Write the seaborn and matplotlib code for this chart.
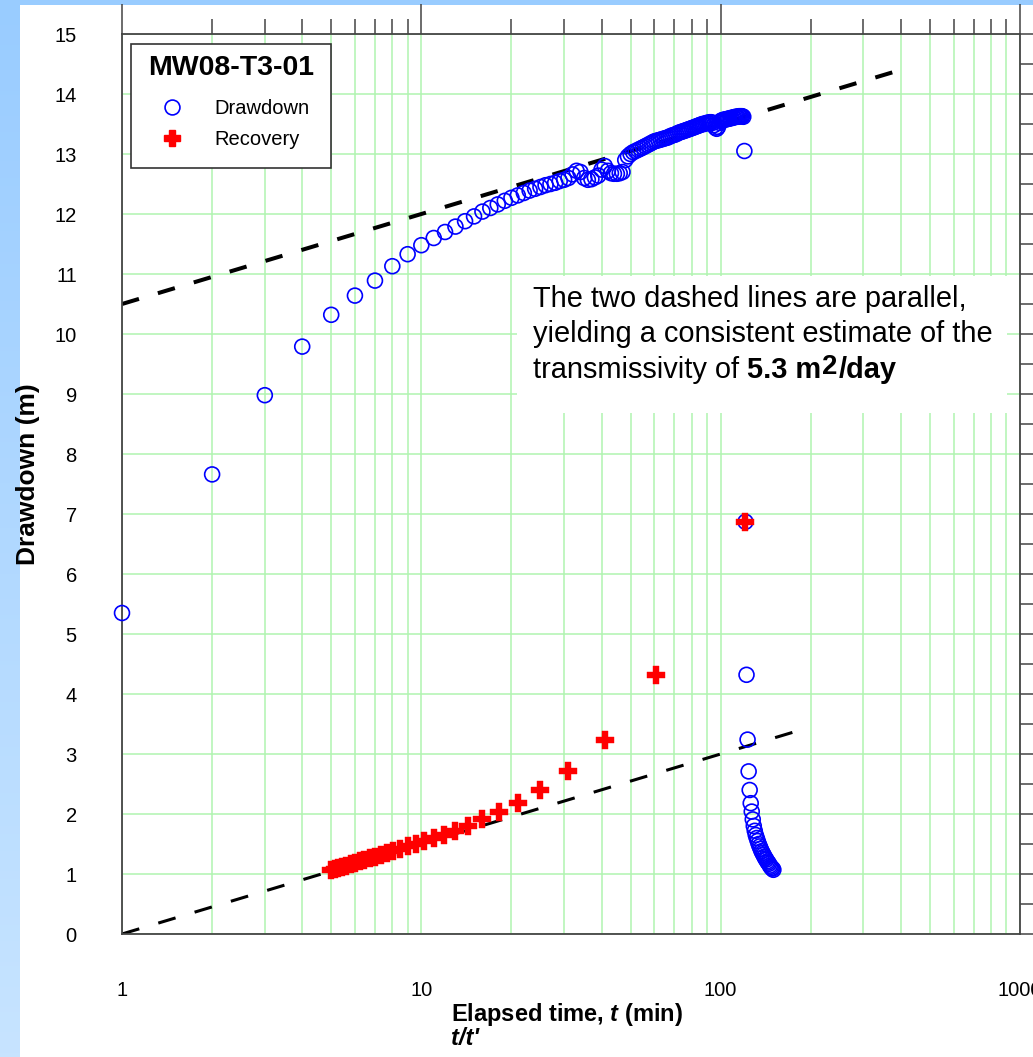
import numpy as np
import pandas as pd
import matplotlib
matplotlib.use("Agg")
import matplotlib.pyplot as plt
import seaborn as sns
from matplotlib.patches import Rectangle
from matplotlib.lines import Line2D
from matplotlib.ticker import FixedLocator, LogLocator, NullFormatter, MultipleLocator

# ---------------- data ----------------
pump_stop = 120  # minutes
pump_time = list(range(1, 121))
pump_drawdown = [
    5.35, 7.66, 8.98, 9.79, 10.32, 10.64, 10.89, 11.13, 11.33, 11.48,
    11.60, 11.70, 11.79, 11.88, 11.96, 12.04, 12.10, 12.16, 12.22, 12.27,
    12.31, 12.35, 12.39, 12.42, 12.45, 12.48, 12.50, 12.52, 12.55, 12.57,
    12.60, 12.66, 12.72, 12.70, 12.60, 12.57, 12.58, 12.61, 12.64, 12.74,
    12.80, 12.72, 12.68, 12.67, 12.67, 12.68, 12.70, 12.90, 12.96, 13.00,
    13.03, 13.05, 13.07, 13.09, 13.11, 13.13, 13.15, 13.17, 13.19, 13.21,
    13.22, 13.23, 13.24, 13.25, 13.26, 13.27, 13.28, 13.30, 13.31, 13.32,
    13.33, 13.35, 13.36, 13.37, 13.38, 13.39, 13.40, 13.41, 13.42, 13.43,
    13.44, 13.45, 13.46, 13.47, 13.48, 13.49, 13.50, 13.50, 13.51, 13.52,
    13.52, 13.53, 13.53, 13.52, 13.48, 13.44, 13.42, 13.45, 13.52, 13.55,
    13.56, 13.57, 13.57, 13.58, 13.58, 13.59, 13.59, 13.60, 13.60, 13.61,
    13.61, 13.62, 13.62, 13.62, 13.63, 13.63, 13.63, 13.63, 13.62, 13.05,
]
recovery_time = list(range(121, 151))
recovery_drawdown = [
    6.87, 4.32, 3.24, 2.71, 2.40, 2.18, 2.04, 1.91, 1.80, 1.72,
    1.65, 1.60, 1.55, 1.50, 1.46, 1.42, 1.38, 1.35, 1.32, 1.29,
    1.26, 1.24, 1.21, 1.19, 1.17, 1.14, 1.12, 1.10, 1.09, 1.07,
]
fit_slope = 1.5            # m per log cycle
fit_intercept_pump = 10.5
fit_intercept_recovery = 0.0
fit_pump_t = [1, 400]
fit_recovery_t = [1, 200]
x_ticks = [1, 10, 100, 1000]
x_tick_labels = ["1", "10", "100", "1000"]

# ---------------- style ----------------
sns.set_theme(style="white")
plt.rcParams["font.family"] = ["Liberation Sans", "DejaVu Sans"]
plt.rcParams["text.color"] = "black"
plt.rcParams["axes.labelcolor"] = "black"
plt.rcParams["xtick.color"] = "black"
plt.rcParams["ytick.color"] = "black"
plt.rcParams["mathtext.fontset"] = "custom"
plt.rcParams["mathtext.rm"] = "Liberation Sans"
plt.rcParams["mathtext.bf"] = "Liberation Sans:bold"
plt.rcParams["mathtext.it"] = "Liberation Sans:italic"
plt.rcParams["mathtext.bfit"] = "Liberation Sans:bold:italic"

W, H = 1033, 1057
fig = plt.figure(figsize=(W / 100, H / 100), dpi=100)
fig.patch.set_facecolor("white")


def fx(px):
    return px / W


def fy(py):
    return 1 - py / H


# background strips (left gradient + top band)
bg = fig.add_axes([0, 0, fx(20), 1], zorder=-10)
grad = np.linspace(0, 1, 256).reshape(-1, 1)
top_c = np.array([153, 204, 255]) / 255
bot_c = np.array([199, 228, 255]) / 255
img = top_c[None, None, :] * (1 - grad[:, :, None]) + bot_c[None, None, :] * grad[:, :, None]
bg.imshow(img, aspect="auto", extent=[0, 1, 0, 1])
bg.set_axis_off()
fig.patches.append(Rectangle((0, fy(5)), 1, 5 / H, transform=fig.transFigure,
                             facecolor="#99ccff", edgecolor="none", zorder=-5))

ax = fig.add_axes([fx(122), fy(934), (1020 - 122) / W, (934 - 34) / H])
ax.set_facecolor("white")

grid_c = "#b0f4b0"
ax.set_xscale("log")
ax.set_xlim(1, 1000)
ax.set_ylim(0, 15)
ax.xaxis.set_major_locator(FixedLocator(x_ticks))
ax.set_xticklabels(x_tick_labels)
ax.xaxis.set_minor_locator(LogLocator(base=10, subs=np.arange(2, 10)))
ax.xaxis.set_minor_formatter(NullFormatter())
ax.yaxis.set_major_locator(MultipleLocator(1))
ax.yaxis.set_minor_locator(MultipleLocator(0.5))
ax.set_axisbelow(True)
ax.grid(which="major", axis="both", color=grid_c, lw=1.1)
ax.grid(which="minor", axis="x", color=grid_c, lw=1.1)
ax.tick_params(which="major", direction="out", length=21.5, width=1.1, color="#444444",
               top=True, right=True, labelsize=14.5, labelcolor="black")
ax.tick_params(which="minor", direction="out", length=10.8, width=1.1, color="#444444",
               top=True, right=True)
ax.tick_params(axis="x", which="major", pad=12)
ax.tick_params(axis="y", which="major", pad=11)
for sp in ax.spines.values():
    sp.set_color("#444444")
    sp.set_linewidth(1.3)

# data frames
dd = pd.DataFrame({"t": pump_time + recovery_time,
                   "s": pump_drawdown + recovery_drawdown})
rt = np.array(recovery_time, dtype=float)
rec = pd.DataFrame({"ratio": rt / (rt - pump_stop), "s": recovery_drawdown})

sns.scatterplot(data=dd, x="t", y="s", ax=ax, marker="o", s=115,
                facecolor="none", edgecolor="#0000ff", linewidth=1.2,
                zorder=3, legend=False, clip_on=False)
sns.scatterplot(data=rec, x="ratio", y="s", ax=ax, marker="P", s=150,
                color="#ff0000", edgecolor="#ff0000", linewidth=0.3,
                zorder=4, legend=False)

# straight-line (Cooper-Jacob) fits
tp = np.array(fit_pump_t, dtype=float)
tr = np.array(fit_recovery_t, dtype=float)
sns.lineplot(x=tp, y=fit_intercept_pump + fit_slope * np.log10(tp), ax=ax,
             color="black", linewidth=2.9, linestyle=(0, (4.4, 4.9)), zorder=2.5)
sns.lineplot(x=tr, y=fit_intercept_recovery + fit_slope * np.log10(tr), ax=ax,
             color="black", linewidth=2.2, linestyle=(0, (5.9, 6.5)), zorder=2.5)
ax.set_xlabel("")
ax.set_ylabel("")

# annotation white box
ax.add_patch(Rectangle(((517 - 122) / 898, (934 - 413) / 900), (1007 - 517) / 898,
                       (413 - 276) / 900, transform=ax.transAxes,
                       facecolor="white", edgecolor="none", zorder=1.5))
fs_note = 20.9
fig.text(fx(533), fy(307), "The two dashed lines are parallel,", fontsize=fs_note,
         va="baseline", ha="left")
fig.text(fx(533), fy(342.5), "yielding a consistent estimate of the", fontsize=fs_note,
         va="baseline", ha="left")
r = fig.canvas.get_renderer()
ta = fig.text(fx(533), fy(378), "transmissivity of", fontsize=fs_note, va="baseline", ha="left")
bb = ta.get_window_extent(renderer=r)
space = 0.278 * fs_note * 100 / 72
tb = fig.text((bb.x1 + space) / W, fy(378), "5.3 m", fontsize=fs_note, fontweight="bold",
              va="baseline", ha="left")
bb = tb.get_window_extent(renderer=r)
tc = fig.text((bb.x1 + 1) / W, fy(374), "2", fontsize=fs_note - 1, fontweight="bold",
              va="baseline", ha="left")
bb = tc.get_window_extent(renderer=r)
fig.text((bb.x1 + 1) / W, fy(378), "/day", fontsize=fs_note, fontweight="bold",
         va="baseline", ha="left")

# legend (frame + title + entries)
ax.add_patch(Rectangle((fx(131), fy(168)), (331 - 131) / W, (168 - 44) / H,
                       transform=fig.transFigure, facecolor="white",
                       edgecolor="#333333", lw=1.2, zorder=5))
fig.text(fx(231), fy(75), "MW08-T3-01", fontsize=20.5, fontweight="bold",
         ha="center", va="baseline", zorder=6)
h_dd = Line2D([], [], marker="o", ls="none", markersize=10.7, markerfacecolor="none",
              markeredgecolor="#0000ff", markeredgewidth=1.2)
h_rec = Line2D([], [], marker="P", ls="none", markersize=12, color="#ff0000")
leg = ax.legend([h_dd, h_rec], ["Drawdown", "Recovery"], frameon=False,
                loc="upper left", bbox_to_anchor=(fx(152), fy(99)),
                bbox_transform=fig.transFigure, borderpad=0, borderaxespad=0,
                handlelength=2.0, handletextpad=1.08, labelspacing=0.6,
                fontsize=14.5, numpoints=1)
leg.set_zorder(7)

# axis labels
fig.text(fx(28), fy(474), "Drawdown (m)", rotation=90, fontsize=19, fontweight="bold",
         ha="center", va="center")
fig.text(fx(451), fy(1021.5), r"Elapsed time, $\mathbfit{t}$ (min)", fontsize=17,
         fontweight="bold", ha="left", va="baseline")
fig.text(fx(451), fy(1045), "t/t'", fontsize=17, fontweight="bold", fontstyle="italic",
         ha="left", va="baseline")

fig.savefig("out.png", dpi=100)
